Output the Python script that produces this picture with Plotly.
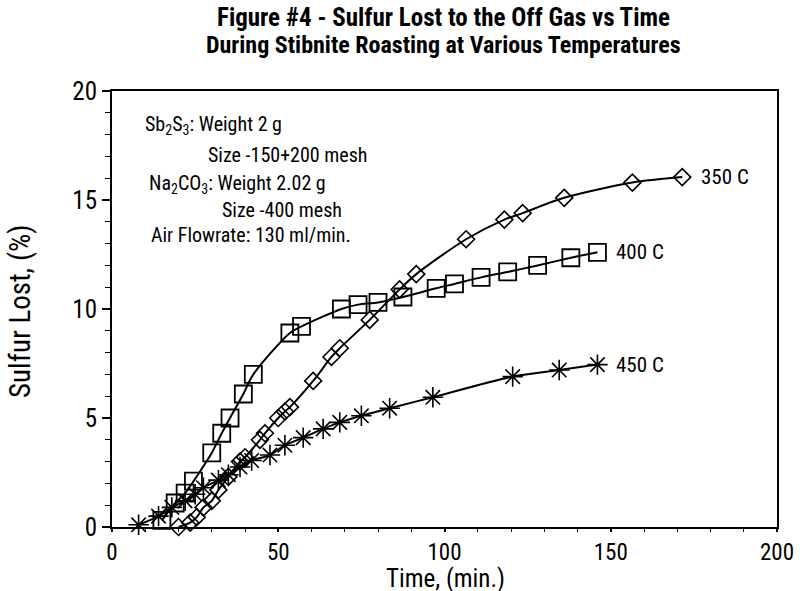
import plotly.graph_objects as go

# ---- data ----
t_350 = [20, 23.5, 25.5, 27.5, 30, 32, 35, 38.5, 40, 44.5, 46, 50, 52, 53.5, 60.5, 66, 68.5, 77.5, 86.5, 91.5, 106.5, 118, 123.5, 136, 156.5, 171.5]
v_350 = [0.0, 0.2, 0.45, 0.9, 1.2, 1.7, 2.3, 3.0, 3.2, 4.0, 4.3, 5.0, 5.3, 5.5, 6.7, 7.8, 8.2, 9.5, 10.9, 11.6, 13.2, 14.1, 14.4, 15.1, 15.8, 16.05]

t_400 = [15, 19, 22, 24.5, 30, 33, 35.5, 39.5, 42.5, 53.5, 57, 69, 74, 80, 87.5, 97.5, 103, 111, 119, 128, 138, 146]
v_400 = [0.3, 1.1, 1.55, 2.1, 3.4, 4.3, 5.0, 6.1, 7.0, 8.9, 9.2, 10.0, 10.2, 10.3, 10.55, 10.95, 11.15, 11.45, 11.7, 12.0, 12.35, 12.6]

t_450 = [8, 14, 18, 22, 25, 27.5, 32, 35, 38.5, 42, 47.5, 52, 57.5, 63.5, 68.5, 75, 83.5, 96.5, 120.5, 134.5, 146]
v_450 = [0.1, 0.5, 0.9, 1.2, 1.5, 1.8, 2.15, 2.4, 2.75, 3.05, 3.3, 3.75, 4.1, 4.5, 4.8, 5.1, 5.45, 5.95, 6.9, 7.2, 7.45]

series_labels = ["350 C", "400 C", "450 C"]
x_ticks = [0, 50, 100, 150, 200]
y_ticks = [0, 5, 10, 15, 20]

FONT = "Noto Sans Condensed, Roboto Condensed, Liberation Sans Narrow, Roboto, sans-serif"

fig = go.Figure()

def add(t, v, symbol, size, width):
    fig.add_trace(go.Scatter(
        x=t, y=v, mode="lines+markers",
        line=dict(color="black", width=2, shape="spline", smoothing=0.8),
        marker=dict(symbol=symbol, size=size, color="black",
                    line=dict(color="black", width=width)),
        showlegend=False, cliponaxis=False))

add(t_350, v_350, "diamond-open", 13, 1.6)
add(t_400, v_400, "square-open", 17, 1.8)
add(t_450, v_450, "asterisk-open", 17, 1.6)

# series end labels
ends = [(t_350[-1], v_350[-1]), (t_400[-1], v_400[-1]), (t_450[-1], v_450[-1])]
for (tx, vy), lab in zip(ends, series_labels):
    fig.add_annotation(x=tx, y=vy, text=lab, showarrow=False, xanchor="left",
                       xshift=17, font=dict(family=FONT, size=21, color="black"))

# info text block
info = [
    ("Sb<sub>2</sub>S<sub>3</sub>: Weight 2 g", 9.3, 18.45),
    ("Size -150+200 mesh", 28.3, 17.06),
    ("Na<sub>2</sub>CO<sub>3</sub>: Weight 2.02 g", 10.5, 15.75),
    ("Size -400 mesh", 32.5, 14.54),
    ("Air Flowrate: 130 ml/min.", 11.1, 13.39),
]
for txt, tx, ty in info:
    fig.add_annotation(x=tx, y=ty, text=txt, showarrow=False, xanchor="left",
                       yanchor="middle", font=dict(family=FONT, size=20, color="black"))

# title (two lines)
title_lines = ["Figure #4 - Sulfur Lost to the Off Gas vs Time",
               "During Stibnite Roasting at Various Temperatures"]
for line, yy, fs in zip(title_lines, [(527 - 18) / 436, (527 - 45) / 436], [25, 24]):
    fig.add_annotation(xref="paper", yref="paper", x=(443 - 112) / 665, y=yy,
                       text="<b>%s</b>" % line, showarrow=False,
                       xanchor="center", yanchor="middle",
                       font=dict(family=FONT, size=fs, color="black"))

# axis titles
fig.add_annotation(xref="paper", yref="paper", x=(445 - 112) / 665, y=(527 - 578) / 436,
                   text="Time, (min.)", showarrow=False, xanchor="center", yanchor="middle",
                   font=dict(family=FONT, size=25, color="black"))
fig.add_annotation(xref="paper", yref="paper", x=(20 - 112) / 665, y=(527 - 311) / 436,
                   text="Sulfur Lost, (%)", showarrow=False, textangle=-90,
                   xanchor="center", yanchor="middle",
                   font=dict(family=FONT, size=29, color="black"))

fig.update_layout(
    width=800, height=591,
    margin=dict(l=112, r=23, t=91, b=64),
    paper_bgcolor="white", plot_bgcolor="white",
    font=dict(family=FONT, color="black"),
)

fig.update_xaxes(range=[0, 200], tickvals=x_ticks, ticks="outside", ticklen=3, tickwidth=1.5,
                 minor=dict(dtick=10, ticks="outside", ticklen=3, tickwidth=1, tickcolor="black"),
                 showline=True, linecolor="black", linewidth=2, mirror=True, showgrid=False,
                 zeroline=False, tickfont=dict(size=23), tickcolor="black", automargin=False)
fig.update_yaxes(range=[0, 20], tickvals=y_ticks, ticks="outside", ticklen=8, tickwidth=1.5,
                 minor=dict(dtick=1, ticks="outside", ticklen=5, tickwidth=1, tickcolor="black"),
                 showline=True, linecolor="black", linewidth=2, mirror=True, showgrid=False,
                 zeroline=False, tickfont=dict(size=25), tickcolor="black", automargin=False)

fig.write_html("out.html", config={"displayModeBar": False},
               post_script="document.body.style.margin='0';document.body.style.overflow='hidden';")
